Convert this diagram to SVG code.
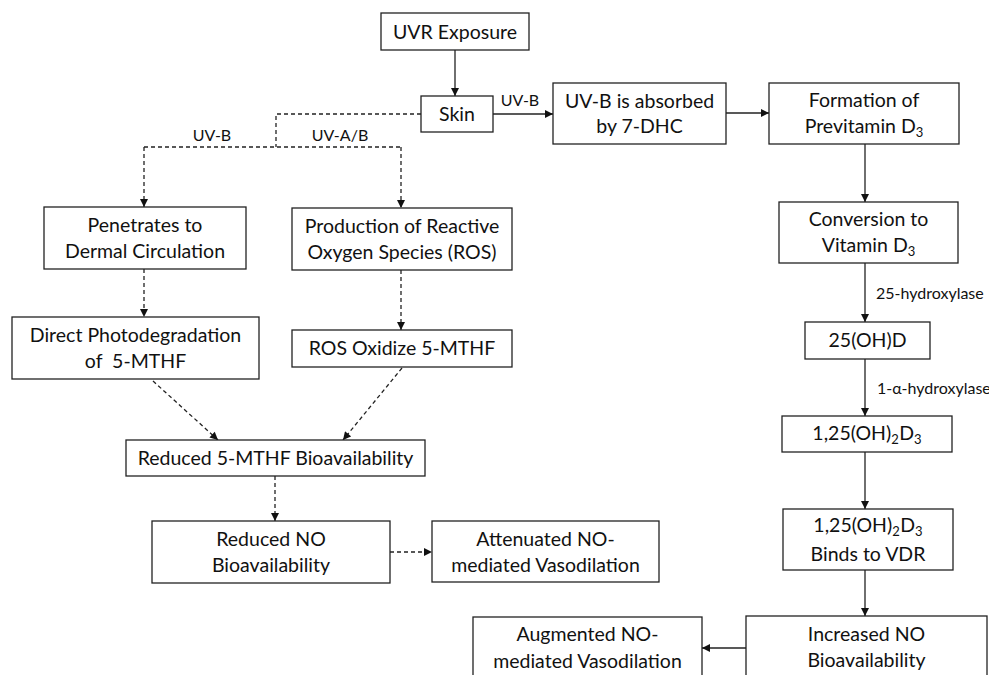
<svg xmlns="http://www.w3.org/2000/svg" width="989" height="675" viewBox="0 0 989 675">
<style>
  .box { fill: #ffffff; stroke: #222222; stroke-width: 1.3; }
  .t { font-family: Lato, "Liberation Sans", sans-serif; font-size: 19.5px; fill: #111111; text-anchor: middle; }
  .lbl { font-family: Lato, "Liberation Sans", sans-serif; font-size: 16px; fill: #111111; }
  .sub { font-size: 13px; }
  .solid { fill: none; stroke: #222222; stroke-width: 1.3; }
  .dash { fill: none; stroke: #222222; stroke-width: 1.3; stroke-dasharray: 4 3; }
  .ah { marker-end: url(#arrow); }
</style>
<defs>
  <marker id="arrow" viewBox="0 0 10 10" refX="10" refY="5" markerWidth="9" markerHeight="8" markerUnits="userSpaceOnUse" orient="auto">
    <path d="M0,0 L10,5 L0,10 z" fill="#111111"/>
  </marker>
</defs>
<rect width="989" height="675" fill="#ffffff"/>

<g id="connectors">
  <line class="solid ah" x1="455" y1="50" x2="455" y2="96"/>
  <line class="solid ah" x1="493" y1="114" x2="553" y2="114"/>
  <text class="lbl" x="520" y="106" text-anchor="middle">UV-B</text>
  <line class="solid ah" x1="726" y1="113" x2="769" y2="113"/>
  <line class="solid ah" x1="865" y1="144" x2="865" y2="202"/>
  <line class="solid ah" x1="865" y1="263" x2="865" y2="322"/>
  <text class="lbl" x="876" y="299">25-hydroxylase</text>
  <line class="solid ah" x1="865" y1="359" x2="865" y2="416"/>
  <text class="lbl" x="877" y="394">1-α-hydroxylase</text>
  <line class="solid ah" x1="865" y1="452" x2="865" y2="509"/>
  <line class="solid ah" x1="865" y1="570" x2="865" y2="616"/>
  <line class="solid ah" x1="746" y1="648" x2="702" y2="648"/>

  <polyline class="dash" points="421,114 276,114 276,147"/>
  <line class="dash" x1="144" y1="147" x2="401" y2="147"/>
  <line class="dash ah" x1="144" y1="147" x2="144" y2="207"/>
  <line class="dash ah" x1="401" y1="147" x2="401" y2="208"/>
  <text class="lbl" x="212" y="141" text-anchor="middle">UV-B</text>
  <text class="lbl" x="340" y="141" text-anchor="middle">UV-A/B</text>
  <line class="dash ah" x1="144" y1="269" x2="144" y2="317"/>
  <line class="dash ah" x1="401" y1="270" x2="401" y2="330"/>
  <line class="dash ah" x1="153" y1="381" x2="218" y2="440"/>
  <line class="dash ah" x1="402" y1="368" x2="343" y2="440"/>
  <line class="dash ah" x1="275" y1="476" x2="275" y2="521"/>
  <line class="dash ah" x1="390" y1="552" x2="432" y2="552"/>
</g>

<g id="uvr-exposure">
  <rect class="box" x="381" y="13" width="148" height="37"/>
  <text class="t" x="455" y="38.5">UVR Exposure</text>
</g>
<g id="skin">
  <rect class="box" x="421" y="96" width="72" height="36"/>
  <text class="t" x="457" y="121">Skin</text>
</g>
<g id="uvb-absorbed">
  <rect class="box" x="553" y="83" width="173" height="61"/>
  <text class="t" x="639.5" y="108">UV-B is absorbed</text>
  <text class="t" x="639.5" y="133">by 7-DHC</text>
</g>
<g id="formation-previtamin">
  <rect class="box" x="769" y="83" width="190" height="61"/>
  <text class="t" x="864" y="107">Formation of</text>
  <text class="t" x="864" y="133">Previtamin D<tspan class="sub" dy="4">3</tspan></text>
</g>
<g id="conversion-vitamin">
  <rect class="box" x="779" y="202" width="179" height="61"/>
  <text class="t" x="868.5" y="226">Conversion to</text>
  <text class="t" x="868.5" y="252">Vitamin D<tspan class="sub" dy="4">3</tspan></text>
</g>
<g id="oh-d">
  <rect class="box" x="805" y="322" width="125" height="37"/>
  <text class="t" x="867.5" y="347">25(OH)D</text>
</g>
<g id="oh2-d3">
  <rect class="box" x="782" y="416" width="170" height="36"/>
  <text class="t" x="867" y="440">1,25(OH)<tspan class="sub" dy="4">2</tspan><tspan dy="-4" dx="0.5">D</tspan><tspan class="sub" dy="4">3</tspan></text>
</g>
<g id="binds-vdr">
  <rect class="box" x="783" y="509" width="170" height="61"/>
  <text class="t" x="868" y="532">1,25(OH)<tspan class="sub" dy="4">2</tspan><tspan dy="-4" dx="0.5">D</tspan><tspan class="sub" dy="4">3</tspan></text>
  <text class="t" x="868" y="561">Binds to VDR</text>
</g>
<g id="increased-no">
  <rect class="box" x="746" y="616" width="241" height="70"/>
  <text class="t" x="866.5" y="641">Increased NO</text>
  <text class="t" x="866.5" y="667">Bioavailability</text>
</g>
<g id="augmented-vasodilation">
  <rect class="box" x="473" y="617" width="229" height="61"/>
  <text class="t" x="587.5" y="641">Augmented NO-</text>
  <text class="t" x="587.5" y="668">mediated Vasodilation</text>
</g>
<g id="penetrates">
  <rect class="box" x="44" y="207" width="202" height="62"/>
  <text class="t" x="145" y="232">Penetrates to</text>
  <text class="t" x="145" y="258">Dermal Circulation</text>
</g>
<g id="production-ros">
  <rect class="box" x="292" y="208" width="220" height="62"/>
  <text class="t" x="402" y="233">Production of Reactive</text>
  <text class="t" x="402" y="259">Oxygen Species (ROS)</text>
</g>
<g id="direct-photodegradation">
  <rect class="box" x="12" y="317" width="247" height="62"/>
  <text class="t" x="135.5" y="342">Direct Photodegradation</text>
  <text class="t" x="135.5" y="368" xml:space="preserve">of  5-MTHF</text>
</g>
<g id="ros-oxidize">
  <rect class="box" x="292" y="330" width="220" height="37"/>
  <text class="t" x="402" y="355">ROS Oxidize 5-MTHF</text>
</g>
<g id="reduced-mthf">
  <rect class="box" x="126" y="440" width="299" height="36"/>
  <text class="t" x="275.5" y="465">Reduced 5-MTHF Bioavailability</text>
</g>
<g id="reduced-no">
  <rect class="box" x="152" y="521" width="238" height="62"/>
  <text class="t" x="271" y="546">Reduced NO</text>
  <text class="t" x="271" y="572">Bioavailability</text>
</g>
<g id="attenuated-vasodilation">
  <rect class="box" x="432" y="521" width="227" height="61"/>
  <text class="t" x="545.5" y="546">Attenuated NO-</text>
  <text class="t" x="545.5" y="572">mediated Vasodilation</text>
</g>
</svg>
